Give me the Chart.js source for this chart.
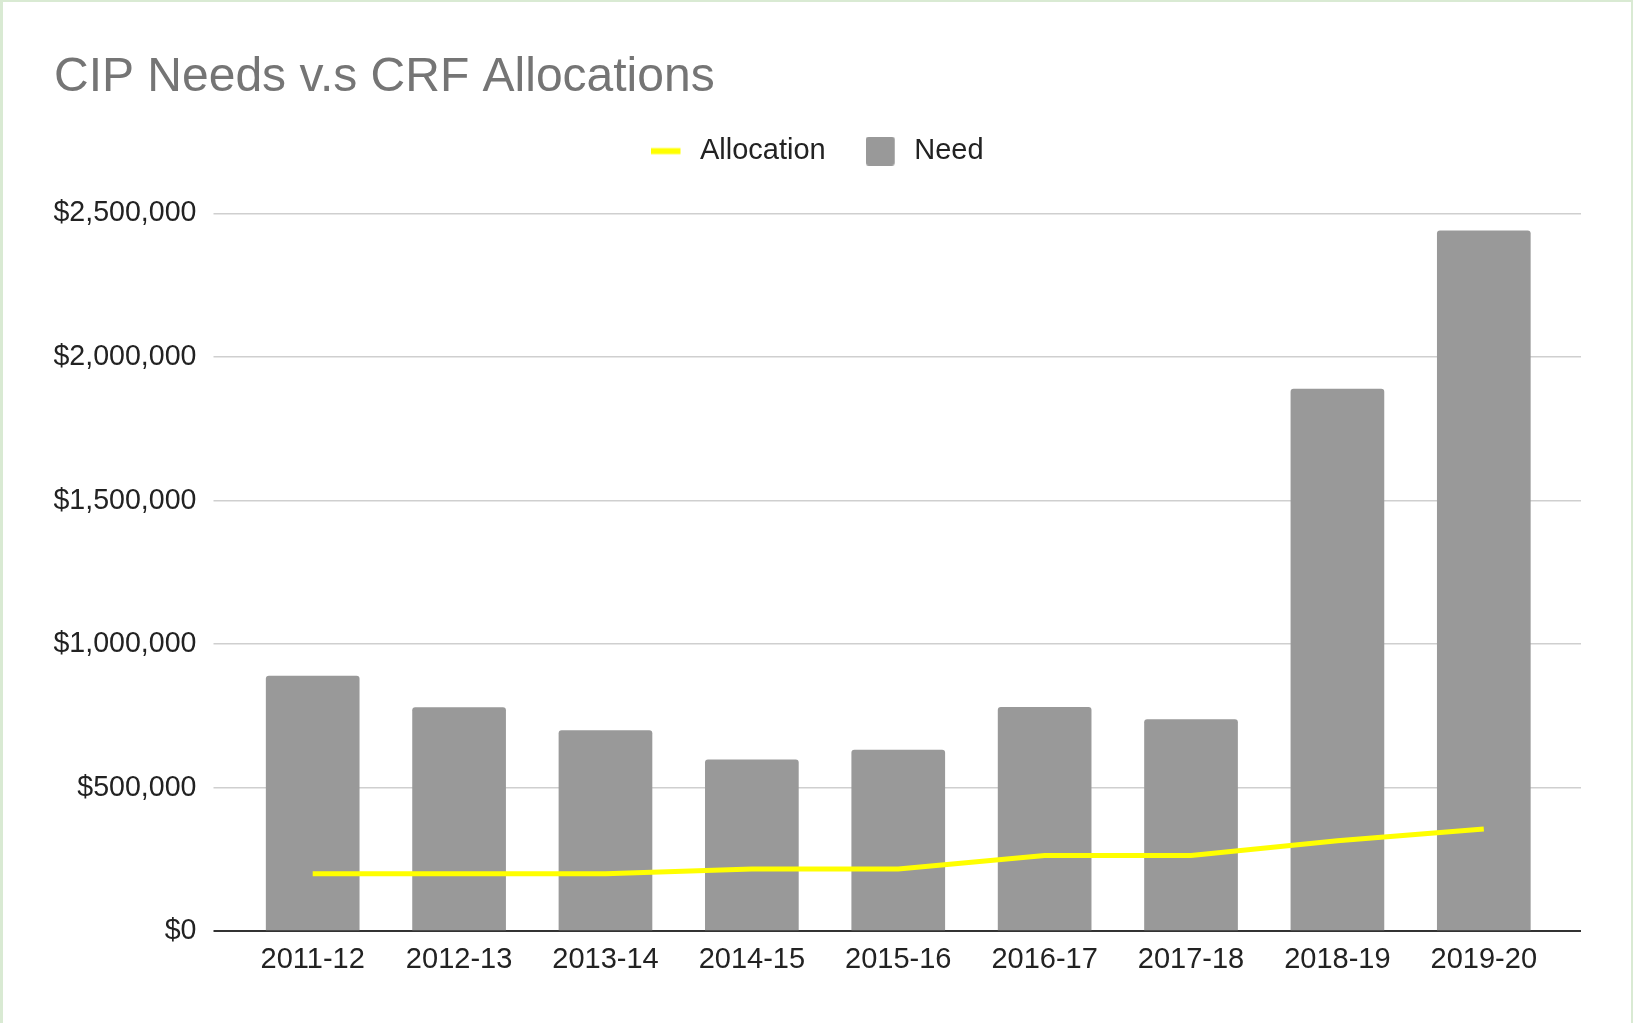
<!DOCTYPE html>
<html><head><meta charset="utf-8">
<script src="https://cdn.jsdelivr.net/npm/chart.js@4/dist/chart.umd.min.js"></script>
<style>
html,body{margin:0;padding:0;background:#fff;}
#wrap{position:relative;width:1633px;height:1023px;overflow:hidden;background:#fff;}
#frame{position:absolute;left:0;top:0;width:1633px;height:1023px;box-sizing:border-box;border-left:3px solid #d9ead3;border-top:2px solid #d9ead3;border-right:2px solid #d9ead3;pointer-events:none;}
canvas{display:block;}
</style></head><body>
<div id="wrap"><canvas id="c" width="1633" height="1023"></canvas><div id="frame"></div></div>
<script>
const chartTitle = 'CIP Needs v.s CRF Allocations';
const categories = ['2011-12','2012-13','2013-14','2014-15','2015-16','2016-17','2017-18','2018-19','2019-20'];
const needValues = [890000, 780000, 700000, 598000, 632000, 781000, 738000, 1890000, 2441000];
const allocationValues = [200000, 200000, 200000, 217000, 217000, 264000, 264000, 315000, 356000];
const seriesNames = ['Allocation', 'Need'];
const yTickValues = [0, 500000, 1000000, 1500000, 2000000, 2500000];
const yTickLabels = ['$0', '$500,000', '$1,000,000', '$1,500,000', '$2,000,000', '$2,500,000'];

const FONT = "'Liberation Sans', Arial, Helvetica, sans-serif";
Chart.defaults.font.family = FONT;

function makeSwatch(color, h, r) {
  const c = document.createElement('canvas');
  c.width = 34; c.height = 29;
  const g = c.getContext('2d');
  const x = 0, w = 29, y = (29 - h) / 2;
  g.fillStyle = color;
  g.beginPath();
  g.moveTo(x + r, y);
  g.lineTo(x + w - r, y);
  g.quadraticCurveTo(x + w, y, x + w, y + r);
  g.lineTo(x + w, y + h - r);
  g.quadraticCurveTo(x + w, y + h, x + w - r, y + h);
  g.lineTo(x + r, y + h);
  g.quadraticCurveTo(x, y + h, x, y + h - r);
  g.lineTo(x, y + r);
  g.quadraticCurveTo(x, y, x + r, y);
  g.closePath();
  g.fill();
  return c;
}
const swatches = [makeSwatch('#ffff00', 6, 0), makeSwatch('#999999', 29, 3)];

const gridColor = (ctx) => (ctx.tick && ctx.tick.value === 0) ? '#333333' : '#cfcfcf';
const gridWidth = (ctx) => (ctx.tick && ctx.tick.value === 0) ? 2 : 1.5;

const legendSpacer = {
  id: 'legendSpacer',
  beforeLayout(chart) {
    const lg = chart.legend;
    if (lg && !lg._spacerPatched) {
      const orig = lg.fit;
      lg.fit = function () { orig.call(this); this.height += 38; };
      lg._spacerPatched = true;
    }
  }
};

new Chart(document.getElementById('c'), {
  data: {
    labels: categories,
    datasets: [
      {
        type: 'line', label: seriesNames[0], data: allocationValues,
        borderColor: '#ffff00', backgroundColor: '#ffff00', borderWidth: 5,
        pointRadius: 0, tension: 0, fill: false, order: 0, yAxisID: 'y'
      },
      {
        type: 'bar', label: seriesNames[1], data: needValues,
        backgroundColor: '#999999', borderRadius: 3, borderSkipped: 'start',
        barPercentage: 0.8, categoryPercentage: 0.8, order: 1, yAxisID: 'y'
      }
    ]
  },
  options: {
    responsive: false,
    animation: false,
    devicePixelRatio: 1,
    layout: { padding: { left: 54, right: 52, top: 0, bottom: 35 } },
    plugins: {
      tooltip: { enabled: false },
      title: {
        display: true, text: chartTitle, align: 'start', color: '#757575',
        font: { size: 48, weight: 'normal', family: FONT }, padding: { top: 49, bottom: -10 }
      },
      legend: {
        display: true, position: 'top', align: 'center',
        labels: {
          usePointStyle: true, pointStyleWidth: 34, padding: 40, color: '#222222',
          font: { size: 29, family: FONT },
          generateLabels(chart) {
            const items = Chart.defaults.plugins.legend.labels.generateLabels(chart);
            items.forEach(it => { it.pointStyle = swatches[it.datasetIndex]; });
            return items;
          }
        }
      }
    },
    scales: {
      x: {
        grid: { display: false, drawTicks: false },
        border: { display: false },
        ticks: { color: '#222222', font: { size: 29, family: FONT }, padding: 11, maxRotation: 0, autoSkip: false }
      },
      y: {
        position: 'left', min: 0, max: 2500000,
        afterFit(scale) { scale.width = 185.5; },
        grid: { color: gridColor, tickColor: gridColor, lineWidth: gridWidth, drawTicks: true, tickLength: 26 },
        border: { display: false },
        ticks: {
          stepSize: 500000, color: '#222222', font: { size: 28.6, family: FONT }, padding: 17,
          callback: (v) => { const i = yTickValues.indexOf(v); return i >= 0 ? yTickLabels[i] : ''; }
        }
      },
      y2: {
        position: 'right', min: 0, max: 2500000,
        grid: { color: gridColor, tickColor: gridColor, lineWidth: gridWidth, drawTicks: true, tickLength: 24, drawOnChartArea: false },
        border: { display: false },
        ticks: { display: false, stepSize: 500000 }
      }
    }
  },
  plugins: [legendSpacer]
});
</script>
</body></html>
